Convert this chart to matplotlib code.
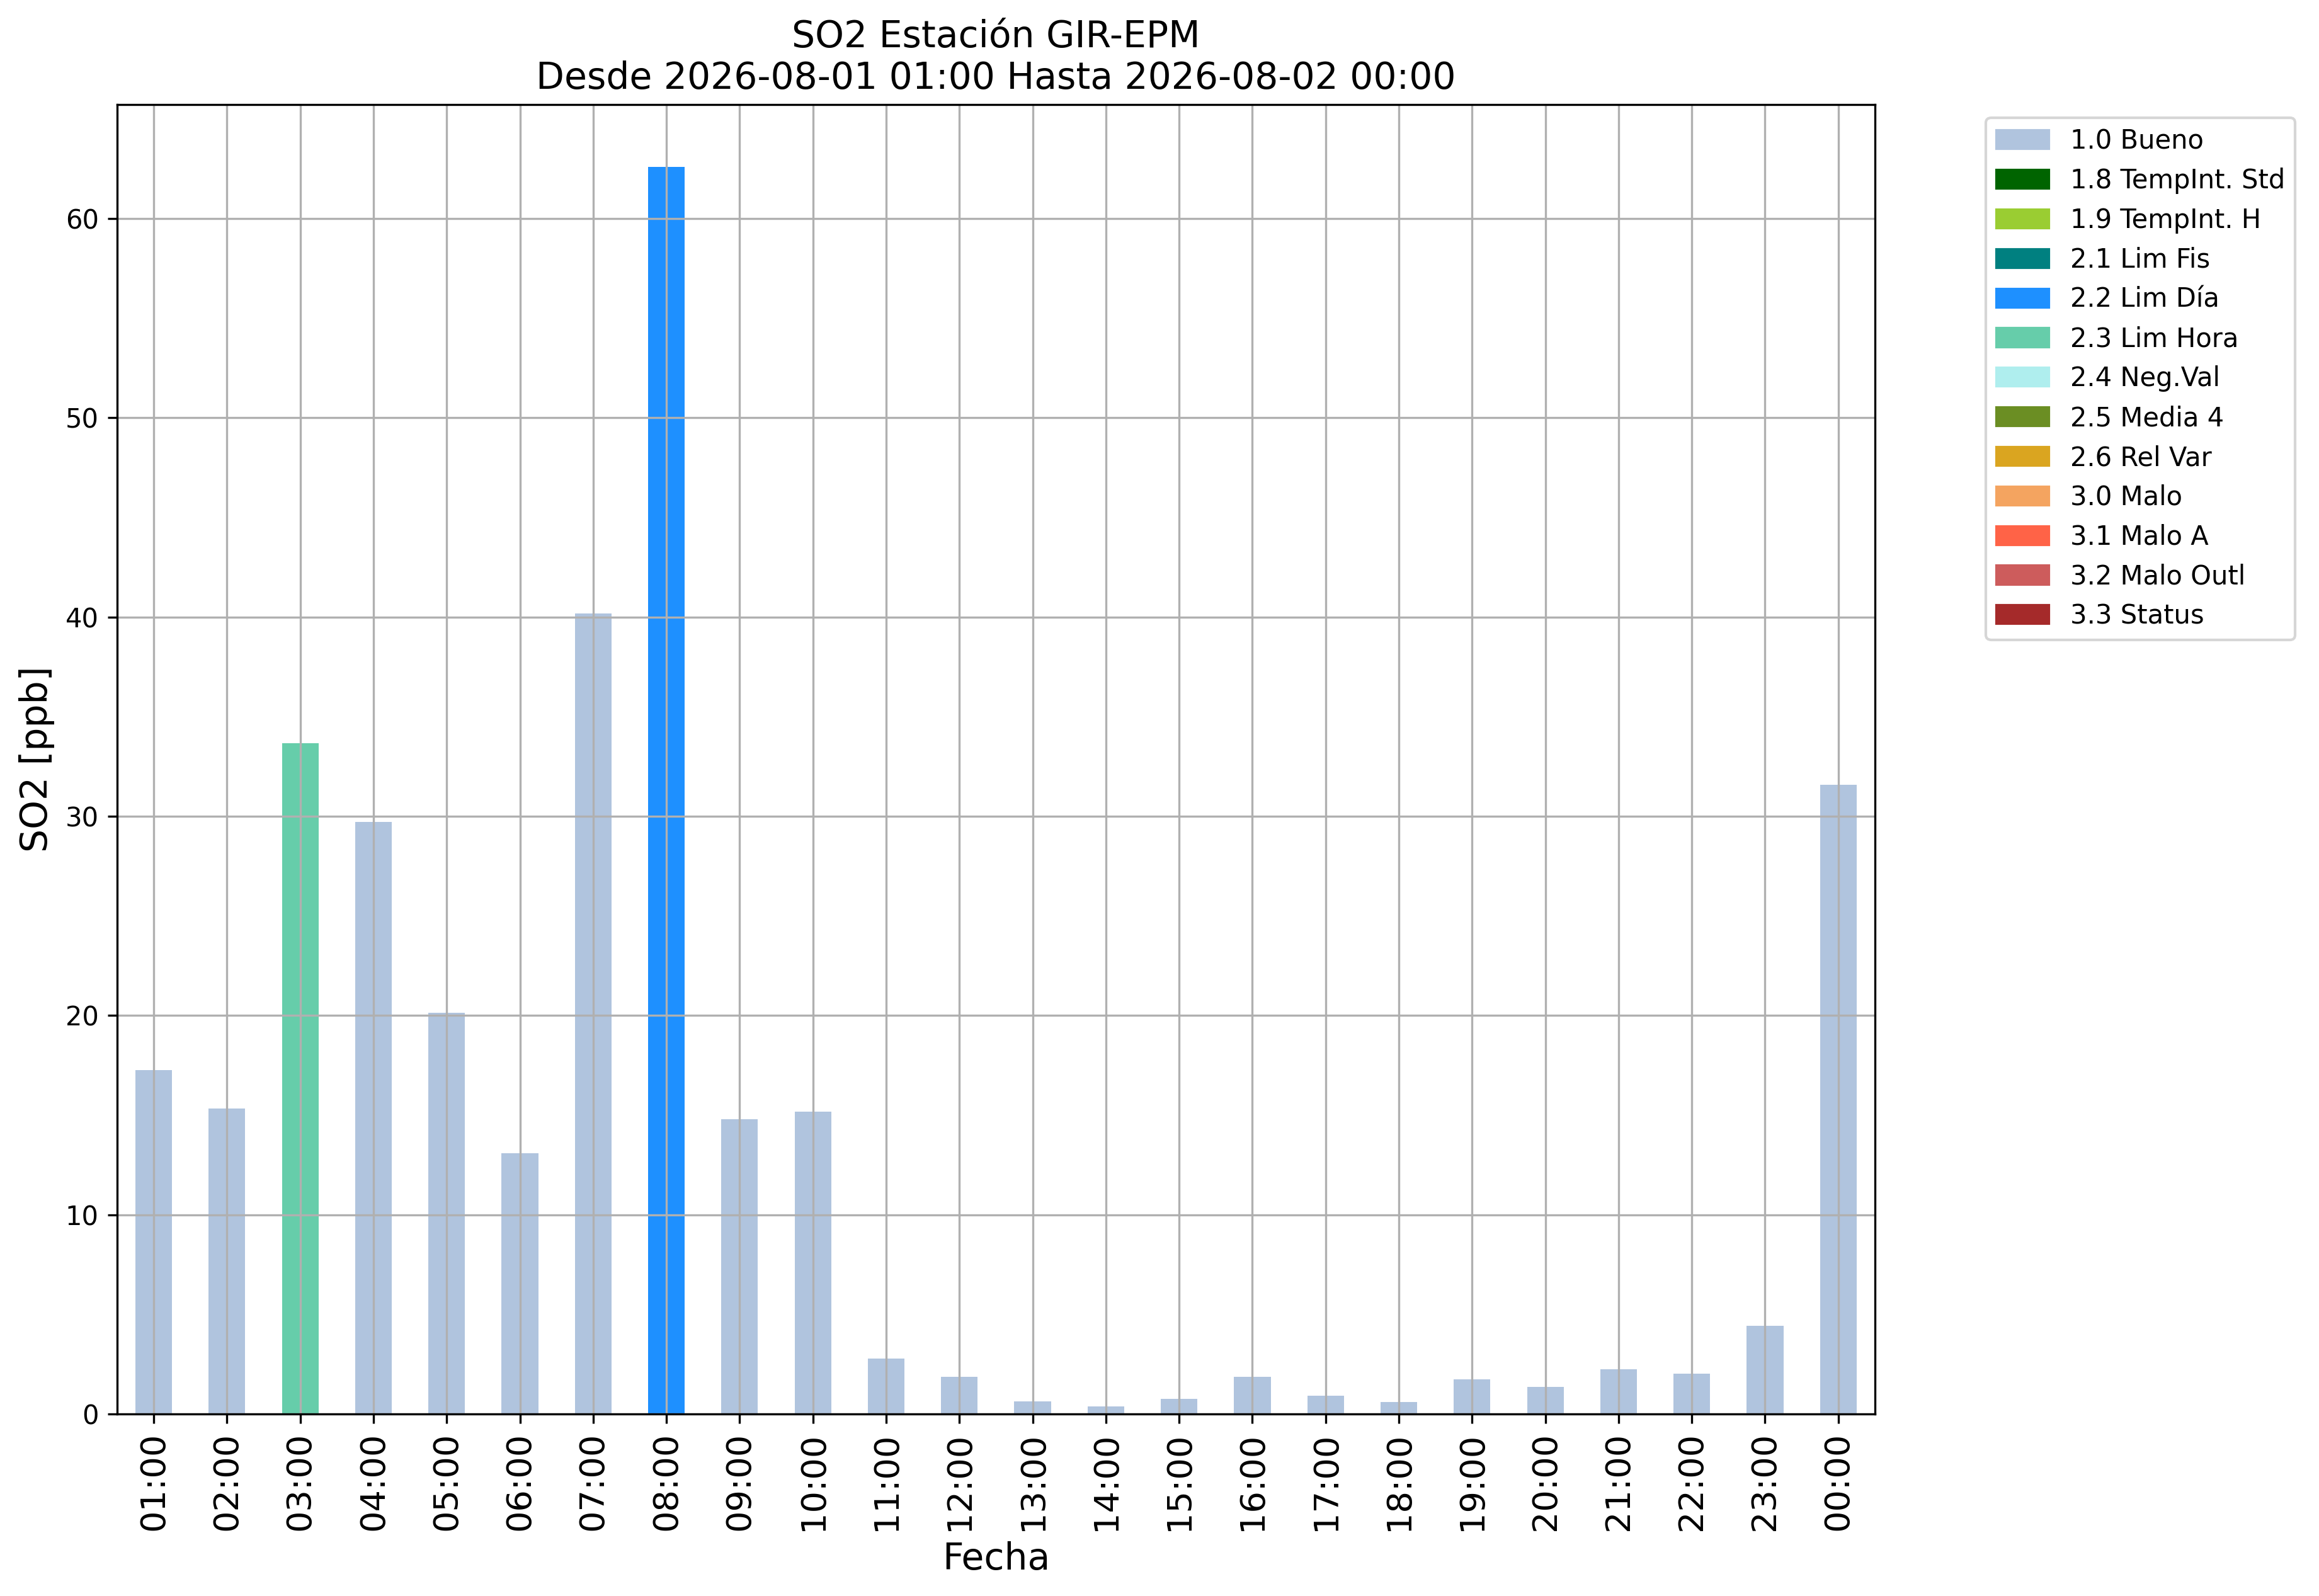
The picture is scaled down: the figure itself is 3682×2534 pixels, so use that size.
import matplotlib
matplotlib.use("Agg")
import matplotlib.pyplot as plt
import matplotlib.patches as mpatches
import numpy as np

hours = ["01:00", "02:00", "03:00", "04:00", "05:00", "06:00", "07:00", "08:00",
         "09:00", "10:00", "11:00", "12:00", "13:00", "14:00", "15:00", "16:00",
         "17:00", "18:00", "19:00", "20:00", "21:00", "22:00", "23:00", "00:00"]
so2 = [17.26, 15.32, 33.66, 29.71, 20.13, 13.08, 40.19, 62.59,
       14.79, 15.18, 2.77, 1.85, 0.64, 0.36, 0.74, 1.85,
       0.90, 0.61, 1.75, 1.37, 2.23, 2.01, 4.42, 31.59]
flags = ["1.0 Bueno", "1.0 Bueno", "2.3 Lim Hora", "1.0 Bueno", "1.0 Bueno", "1.0 Bueno",
         "1.0 Bueno", "2.2 Lim Día", "1.0 Bueno", "1.0 Bueno", "1.0 Bueno", "1.0 Bueno",
         "1.0 Bueno", "1.0 Bueno", "1.0 Bueno", "1.0 Bueno", "1.0 Bueno", "1.0 Bueno",
         "1.0 Bueno", "1.0 Bueno", "1.0 Bueno", "1.0 Bueno", "1.0 Bueno", "1.0 Bueno"]

flag_labels = ["1.0 Bueno", "1.8 TempInt. Std", "1.9 TempInt. H", "2.1 Lim Fis",
               "2.2 Lim Día", "2.3 Lim Hora", "2.4 Neg.Val", "2.5 Media 4",
               "2.6 Rel Var", "3.0 Malo", "3.1 Malo A", "3.2 Malo Outl", "3.3 Status"]
flag_colors = ["lightsteelblue", "darkgreen", "yellowgreen", "teal",
               "dodgerblue", "mediumaquamarine", "paleturquoise", "olivedrab",
               "goldenrod", "sandybrown", "tomato", "indianred", "brown"]

title = "SO2 Estación GIR-EPM\nDesde 2026-08-01 01:00 Hasta 2026-08-02 00:00"

color_map = dict(zip(flag_labels, flag_colors))
bar_colors = [color_map[f] for f in flags]

fig = plt.figure(figsize=(3682 / 300, 2534 / 300), dpi=300)
ax = fig.add_axes([0.0505, 0.1141, 0.8085 - 0.0505, 0.9345 - 0.1141])

x = np.arange(len(hours))
ax.bar(x, so2, width=0.5, color=bar_colors)
ax.set_xlim(-0.5, len(hours) - 0.5)
ax.set_xticks(x)
ax.set_xticklabels(hours, rotation=90, fontsize=13)
ax.tick_params(axis="y", labelsize=10)
ax.grid(True)

ax.set_title(title, fontsize=14)
ax.set_xlabel("Fecha", fontsize=14)
ax.set_ylabel("SO2 [ppb]", fontsize=14)

handles = [mpatches.Patch(color=c, label=l) for l, c in zip(flag_labels, flag_colors)]
ax.legend(handles=handles, bbox_to_anchor=(1.0557, 1), loc="upper left", fontsize=10)

fig.savefig("out.png", dpi=300)
